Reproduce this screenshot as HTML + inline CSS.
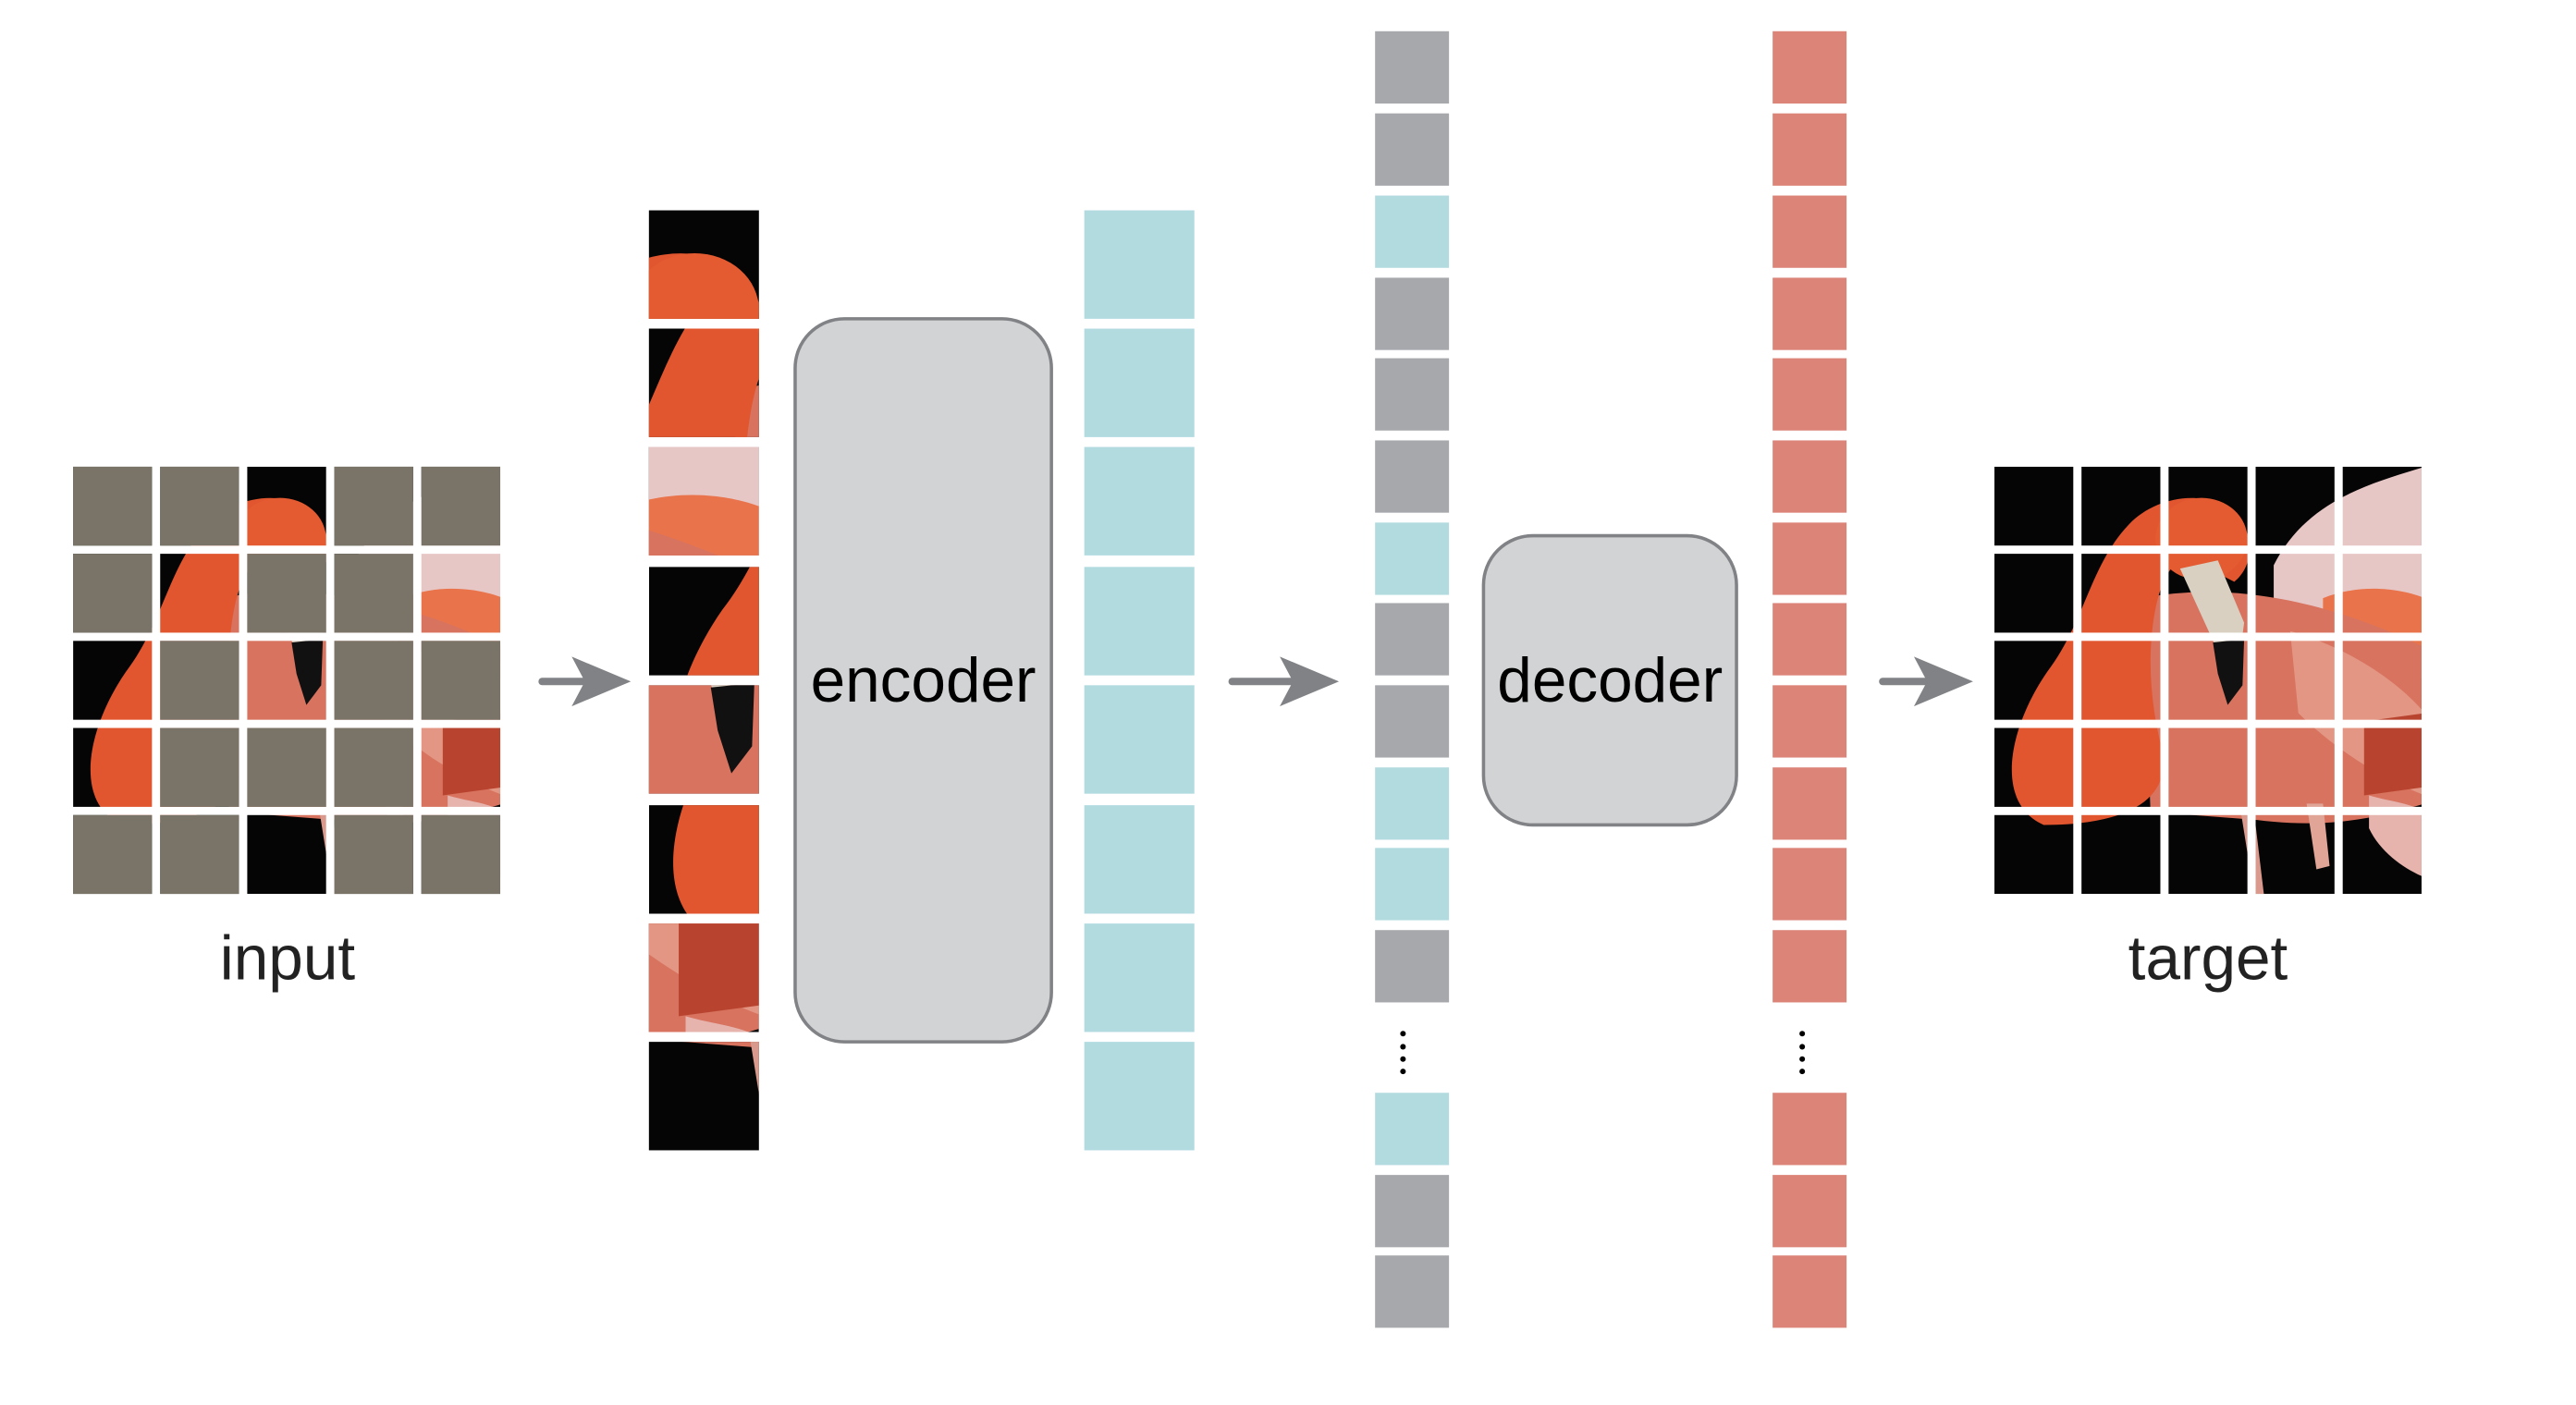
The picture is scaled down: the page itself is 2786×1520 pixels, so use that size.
<!DOCTYPE html>
<html><head><meta charset="utf-8"><style>
html,body{margin:0;padding:0;background:#fff;width:2786px;height:1520px;overflow:hidden}
svg{display:block}
text{font-family:"Liberation Sans",Arial,sans-serif}
</style></head><body>
<svg width="2786" height="1520" viewBox="0 0 1568 855" preserveAspectRatio="none" xmlns="http://www.w3.org/2000/svg">
<defs>
<clipPath id="full"><rect x="0" y="0" width="260" height="260"/></clipPath>
<g id="fl"><g clip-path="url(#full)">
  <rect x="0" y="0" width="260" height="260" fill="#050505"/>
  <path d="M170 60 C190 20,230 10,262 0 L262 120 C235 110,200 100,170 95 Z" fill="#e7c7c6"/>
  <path d="M200 80 C225 70,250 75,262 80 L262 130 C240 120,215 110,200 100 Z" fill="#e9744c"/>
  <path d="M90 80 C140 70,200 80,262 110 L262 205 C230 215,200 220,160 215 L95 210 Z" fill="#d7735f"/>
  <path d="M180 100 C215 110,245 130,262 150 L262 200 C235 190,205 170,185 150 Z" fill="#e39683"/>
  <path d="M225 155 L262 150 L262 195 L225 200 Z" fill="#b8442f"/>
  <path d="M228 200 C245 205,262 205,262 215 L262 250 C250 245,235 235,228 220 Z" fill="#e6b3ad"/>
  <path d="M30 218 C0 205,8 160,32 125 C55 95,58 60,82 35 C98 18,130 12,148 30 C160 45,156 62,146 70 L126 60 C112 52,104 62,99 82 C92 112,95 145,102 172 C108 200,85 218,30 218 Z" fill="#e1562f"/>
  <ellipse cx="126" cy="44" rx="28" ry="25" fill="#e45b31"/>
  <path d="M113 62 L136 57 L152 95 L150 110 L134 108 Z" fill="#d9d0c2"/>
  <path d="M133 107 L152 105 L151 133 L142 145 L136 126 Z" fill="#111"/>
  <path d="M150 210 L158 260 L164 260 L158 210 Z" fill="#d99a8d"/>
  <path d="M190 205 L196 245 L204 243 L200 205 Z" fill="#e0a597"/>
</g></g>
<clipPath id="cp"><rect x="0" y="0" width="48" height="48"/></clipPath>
</defs>

<g transform="translate(44.5,284)">
  <use href="#fl"/>
  <g fill="#fff">
    <rect x="48" y="-2" width="5" height="266"/><rect x="101" y="-2" width="5" height="266"/>
    <rect x="154" y="-2" width="5" height="266"/><rect x="207" y="-2" width="5" height="266"/>
    <rect x="-2" y="48" width="266" height="5"/><rect x="-2" y="101" width="266" height="5"/>
    <rect x="-2" y="154" width="266" height="5"/><rect x="-2" y="207" width="266" height="5"/>
  </g>
  <g fill="#7a7468">
    <rect x="0" y="0" width="48" height="48"/><rect x="53" y="0" width="48" height="48"/><rect x="159" y="0" width="48" height="48"/><rect x="212" y="0" width="48" height="48"/>
    <rect x="0" y="53" width="48" height="48"/><rect x="106" y="53" width="48" height="48"/><rect x="159" y="53" width="48" height="48"/>
    <rect x="53" y="106" width="48" height="48"/><rect x="159" y="106" width="48" height="48"/><rect x="212" y="106" width="48" height="48"/>
    <rect x="53" y="159" width="48" height="48"/><rect x="106" y="159" width="48" height="48"/><rect x="159" y="159" width="48" height="48"/>
    <rect x="0" y="212" width="48" height="48"/><rect x="53" y="212" width="48" height="48"/><rect x="159" y="212" width="48" height="48"/><rect x="212" y="212" width="48" height="48"/>
  </g>
</g>
<text x="175" y="596" font-size="38" text-anchor="middle" fill="#222">input</text>

<g fill="#808285" stroke="#808285">
  <line x1="330" y1="414.7" x2="360" y2="414.7" stroke-width="4.5" stroke-linecap="round"/>
  <polygon points="384,414.7 348,399.6 356,414.7 348,429.8" stroke="none"/>
  <line x1="750" y1="414.7" x2="790" y2="414.7" stroke-width="4.5" stroke-linecap="round"/>
  <polygon points="815,414.7 779,399.6 787,414.7 779,429.8" stroke="none"/>
  <line x1="1146" y1="414.7" x2="1176" y2="414.7" stroke-width="4.5" stroke-linecap="round"/>
  <polygon points="1201,414.7 1165,399.6 1173,414.7 1165,429.8" stroke="none"/>
</g>

<g>
  <g transform="translate(395,128) scale(1.395,1.375)"><g clip-path="url(#cp)"><use href="#fl" transform="translate(-106,0)"/></g></g>
  <g transform="translate(395,200) scale(1.395,1.375)"><g clip-path="url(#cp)"><use href="#fl" transform="translate(-53,-53)"/></g></g>
  <g transform="translate(395,272) scale(1.395,1.375)"><g clip-path="url(#cp)"><use href="#fl" transform="translate(-212,-53)"/></g></g>
  <g transform="translate(395,345) scale(1.395,1.375)"><g clip-path="url(#cp)"><use href="#fl" transform="translate(0,-106)"/></g></g>
  <g transform="translate(395,417) scale(1.395,1.375)"><g clip-path="url(#cp)"><use href="#fl" transform="translate(-106,-106)"/></g></g>
  <g transform="translate(395,490) scale(1.395,1.375)"><g clip-path="url(#cp)"><use href="#fl" transform="translate(0,-159)"/></g></g>
  <g transform="translate(395,562) scale(1.395,1.375)"><g clip-path="url(#cp)"><use href="#fl" transform="translate(-212,-159)"/></g></g>
  <g transform="translate(395,634) scale(1.395,1.375)"><g clip-path="url(#cp)"><use href="#fl" transform="translate(-106,-212)"/></g></g>
</g>

<rect x="484" y="194" width="156" height="440" rx="30" fill="#d1d3d4" stroke="#808285" stroke-width="2"/>
<text x="562" y="427" font-size="38" text-anchor="middle" fill="#000">encoder</text>

<g fill="#b2dbe0">
  <rect x="660" y="128" width="67" height="66"/><rect x="660" y="200" width="67" height="66"/>
  <rect x="660" y="272" width="67" height="66"/><rect x="660" y="345" width="67" height="66"/>
  <rect x="660" y="417" width="67" height="66"/><rect x="660" y="490" width="67" height="66"/>
  <rect x="660" y="562" width="67" height="66"/><rect x="660" y="634" width="67" height="66"/>
</g>

<g>
  <rect x="837" y="19" width="45" height="44" fill="#a7a8ac"/>
  <rect x="837" y="69" width="45" height="44" fill="#a7a8ac"/>
  <rect x="837" y="119" width="45" height="44" fill="#b2dbe0"/>
  <rect x="837" y="169" width="45" height="44" fill="#a7a8ac"/>
  <rect x="837" y="218" width="45" height="44" fill="#a7a8ac"/>
  <rect x="837" y="268" width="45" height="44" fill="#a7a8ac"/>
  <rect x="837" y="318" width="45" height="44" fill="#b2dbe0"/>
  <rect x="837" y="367" width="45" height="44" fill="#a7a8ac"/>
  <rect x="837" y="417" width="45" height="44" fill="#a7a8ac"/>
  <rect x="837" y="467" width="45" height="44" fill="#b2dbe0"/>
  <rect x="837" y="516" width="45" height="44" fill="#b2dbe0"/>
  <rect x="837" y="566" width="45" height="44" fill="#a7a8ac"/>
  <rect x="837" y="665" width="45" height="44" fill="#b2dbe0"/>
  <rect x="837" y="715" width="45" height="44" fill="#a7a8ac"/>
  <rect x="837" y="764" width="45" height="44" fill="#a7a8ac"/>
  <g fill="#000"><circle cx="854" cy="629" r="1.7"/><circle cx="854" cy="637" r="1.7"/><circle cx="854" cy="644.5" r="1.7"/><circle cx="854" cy="652" r="1.7"/></g>
</g>

<rect x="903" y="326" width="154" height="176" rx="30" fill="#d1d3d4" stroke="#808285" stroke-width="2"/>
<text x="980" y="427" font-size="38" text-anchor="middle" fill="#000">decoder</text>

<g fill="#dc8478">
  <rect x="1079" y="19" width="45" height="44"/><rect x="1079" y="69" width="45" height="44"/>
  <rect x="1079" y="119" width="45" height="44"/><rect x="1079" y="169" width="45" height="44"/>
  <rect x="1079" y="218" width="45" height="44"/><rect x="1079" y="268" width="45" height="44"/>
  <rect x="1079" y="318" width="45" height="44"/><rect x="1079" y="367" width="45" height="44"/>
  <rect x="1079" y="417" width="45" height="44"/><rect x="1079" y="467" width="45" height="44"/>
  <rect x="1079" y="516" width="45" height="44"/><rect x="1079" y="566" width="45" height="44"/>
  <rect x="1079" y="665" width="45" height="44"/><rect x="1079" y="715" width="45" height="44"/>
  <rect x="1079" y="764" width="45" height="44"/>
</g>
<g fill="#000"><circle cx="1097" cy="629" r="1.7"/><circle cx="1097" cy="637" r="1.7"/><circle cx="1097" cy="644.5" r="1.7"/><circle cx="1097" cy="652" r="1.7"/></g>

<g transform="translate(1214,284)">
  <use href="#fl"/>
  <g fill="#fff">
    <rect x="48" y="-2" width="5" height="266"/><rect x="101" y="-2" width="5" height="266"/>
    <rect x="154" y="-2" width="5" height="266"/><rect x="207" y="-2" width="5" height="266"/>
    <rect x="-2" y="48" width="266" height="5"/><rect x="-2" y="101" width="266" height="5"/>
    <rect x="-2" y="154" width="266" height="5"/><rect x="-2" y="207" width="266" height="5"/>
  </g>
</g>
<text x="1344" y="596" font-size="38" text-anchor="middle" fill="#222">target</text>
</svg>
</body></html>
